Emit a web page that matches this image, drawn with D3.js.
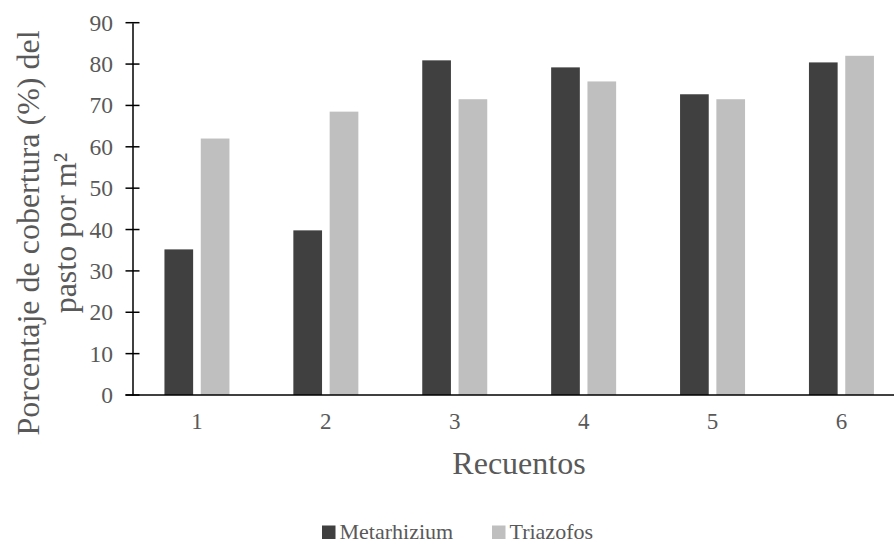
<!DOCTYPE html>
<html>
<head>
<meta charset="utf-8">
<script src="https://cdn.jsdelivr.net/npm/d3@7"></script>
<style>
  html, body { margin: 0; padding: 0; background: #fff; }
  svg { display: block; }
  svg text { font-family: "Liberation Serif", "Times New Roman", serif; }
</style>
</head>
<body>
<svg id="chart" width="894" height="544"></svg>
<script>
const categories = ["1", "2", "3", "4", "5", "6"];
const seriesNames = ["Metarhizium", "Triazofos"];
const metarhizium = [35.2, 39.8, 80.9, 79.2, 72.7, 80.4];
const triazofos = [62.0, 68.5, 71.5, 75.8, 71.5, 82.0];
const yTicks = [0, 10, 20, 30, 40, 50, 60, 70, 80, 90];
const colors = ["#404040", "#bfbfbf"];

const seriesValues = [metarhizium, triazofos];
const data = categories.map((c, i) => ({
  cat: c,
  vals: seriesNames.map((s, j) => ({ series: s, value: seriesValues[j][i], color: colors[j] }))
}));

const svg = d3.select("#chart");
const font = '"Liberation Serif", "Times New Roman", serif';
const textColor = "#595959";
const axisX = 132.5;

const x0 = d3.scaleBand().domain(categories).range([axisX, axisX + 6 * 128.9]).padding(0);
const x1 = d3.scaleBand().domain(seriesNames).range([-32.5, 32.5]).paddingInner(0.21).paddingOuter(0);
const y = d3.scaleLinear().domain([0, 90]).range([395, 22.7]);

// bars
const groups = svg.append("g").selectAll("g").data(data).join("g")
  .attr("transform", d => `translate(${x0(d.cat) + x0.bandwidth() / 2},0)`);
groups.selectAll("rect").data(d => d.vals).join("rect")
  .attr("x", d => x1(d.series))
  .attr("width", x1.bandwidth())
  .attr("y", d => y(d.value))
  .attr("height", d => y(0) - y(d.value))
  .attr("fill", d => d.color);

// y axis
const yAxis = d3.axisLeft(y).tickValues(yTicks).tickSize(0).tickPadding(19.5);
const yg = svg.append("g").attr("transform", `translate(${axisX},0)`).call(yAxis);
yg.attr("font-family", null).attr("font-size", null);
yg.select(".domain").attr("stroke", "#000").attr("stroke-width", 1.5);
yg.selectAll(".tick text").style("font-family", font).attr("font-size", 23.5).attr("fill", textColor);
// cross ticks
svg.append("g").selectAll("line").data(yTicks).join("line")
  .attr("x1", axisX - 7).attr("x2", axisX + 7)
  .attr("y1", d => y(d)).attr("y2", d => y(d))
  .attr("stroke", "#000").attr("stroke-width", 1.5);

// x axis
const xAxis = d3.axisBottom(x0).tickSize(0).tickPadding(17.5);
const xg = svg.append("g").attr("transform", `translate(0,${y(0)})`).call(xAxis);
xg.attr("font-family", null).attr("font-size", null);
xg.select(".domain").remove();
xg.selectAll(".tick text").style("font-family", font).attr("font-size", 23).attr("fill", textColor);
svg.append("line")
  .attr("x1", axisX - 7).attr("x2", 906)
  .attr("y1", y(0)).attr("y2", y(0))
  .attr("stroke", "#000").attr("stroke-width", 1.5);

// axis titles
svg.append("text")
  .attr("x", 519).attr("y", 474)
  .attr("text-anchor", "middle")
  .style("font-family", font).attr("font-size", 32).attr("fill", textColor)
  .text("Recuentos");

const yt = svg.append("text")
  .attr("transform", "translate(0,233) rotate(-90)")
  .attr("text-anchor", "middle")
  .style("font-family", font).attr("font-size", 32).attr("fill", textColor);
yt.append("tspan").attr("x", 0).attr("y", 39).text("Porcentaje de cobertura (%) del");
yt.append("tspan").attr("x", 0).attr("y", 76).text("pasto por m²");

// legend
const legendItems = [
  { name: seriesNames[0], color: colors[0], x: 322 },
  { name: seriesNames[1], color: colors[1], x: 492 }
];
const lg = svg.append("g").selectAll("g").data(legendItems).join("g")
  .attr("transform", d => `translate(${d.x},0)`);
lg.append("rect").attr("x", 0).attr("y", 525.5).attr("width", 13.5).attr("height", 13.5).attr("fill", d => d.color);
lg.append("text").attr("x", 17.5).attr("y", 539)
  .style("font-family", font).attr("font-size", 22).attr("fill", textColor)
  .text(d => d.name);
</script>
</body>
</html>
